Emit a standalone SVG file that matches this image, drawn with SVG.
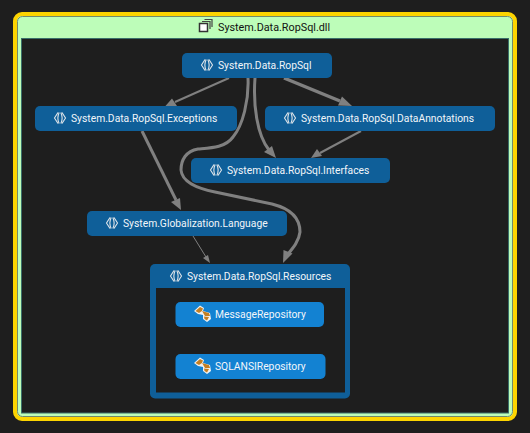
<svg xmlns="http://www.w3.org/2000/svg" width="530" height="433" viewBox="0 0 530 433">
<style>
text{font-family:"Roboto","Lato","Liberation Sans",sans-serif;font-size:10.3px;fill:#f2f6fa}
.ns{fill:#0f5f99}
.cl{fill:#1382d2}
.e{fill:none;stroke:#808080;stroke-linecap:butt}
.a{fill:#808080}
.br{fill:none;stroke:#dfe5ea;stroke-width:1.1}
</style>
<defs>
<g id="nsicon"><path class="br" d="M-2 -5.500 L-5.500 0 L-2 5.500 M-0.800 -5.500 Q-3.500 0 -0.800 5.500 M2 -5.500 L5.500 0 L2 5.500 M0.800 -5.500 Q3.500 0 0.800 5.500"/></g>
<g id="clicon"><path fill="#f2f2f2" d="M-2 -8.500 L2 -6 L1 -3 L8 -1 L9 5 L5 8 L1 5 L1 1 L-4 0 L-8 -3 Z"/><path fill="#c47f22" d="M-2 -7 L1 -5.500 L0 -3 L-3 -1 L-6.500 -3 Z"/><path fill="#c47f22" d="M0 -3 L7 -1 L8 2 L3 2 Z"/><path fill="#c47f22" d="M2 2.500 L7 3 L5 6.500 L2.500 5 Z"/></g>
</defs>
<rect width="530" height="433" fill="#1e1e1e"/>
<g id="assembly">
<rect x="15" y="14" width="500" height="405" rx="7" fill="#bdfdb9" stroke="#fdd400" stroke-width="4"/>
<rect x="17.500" y="16.500" width="495" height="400" rx="5" fill="none" stroke="#6f8a6c" stroke-width="1"/>
<rect x="21.500" y="38.500" width="487" height="374.500" fill="#1e1e1e" stroke="#3a6f6a" stroke-width="1"/>
<rect x="199.500" y="23.500" width="8" height="8" fill="#fff" stroke="#333" stroke-width="1.500"/>
<path d="M202 21.500 H210 V29 M204.500 19.500 H212 V27" fill="none" stroke="#444" stroke-width="1.200"/>
<text x="218" y="31" style="fill:#111;font-size:10.8px">System.Data.RopSql.dll</text>
</g>
<g id="connectors">
<path class="e" stroke-width="2" d="M229 78 L175 102"/><path class="a" d="M165 106.500 L172 98.500 L177 106 Z"/>
<path class="e" stroke-width="3.500" d="M284 78 L340 101"/><path class="a" d="M352 106 L338 105.500 L342 96.500 Z"/>
<path class="e" stroke-width="3" d="M255 78 C253 105 257 135 269 150"/><path class="a" d="M276 158 L264 152 L272 146 Z"/>
<path class="e" stroke-width="3" d="M248 78 C249 100 243 125 233 137 C225 148 210 148 198 149 C186 151 181 160 181 170 C182 182 196 188 215 192 L272 204 C292 209 300 219 300 232 C299 241 293 248 288 254"/><path class="a" d="M283 263 L283.500 250 L292.500 253.500 Z"/>
<path class="e" stroke-width="2" d="M361 131 L320 153"/><path class="a" d="M311 158 L317 149 L322 156 Z"/>
<path class="e" stroke-width="3" d="M142 131 L176 200"/><path class="a" d="M181 210 L171 202 L180 198 Z"/>
<path class="e" stroke-width="1" d="M193 236 L206 257"/><path class="a" d="M210 263 L203 258 L208 255 Z"/>
</g>
<g id="ns-root"><rect class="ns" x="182" y="53" width="150" height="25" rx="5"/><use href="#nsicon" x="207" y="65"/><text x="218" y="69">System.Data.RopSql</text></g>
<g id="ns-exceptions"><rect class="ns" x="35" y="106" width="202" height="25" rx="5"/><use href="#nsicon" x="60" y="118"/><text x="71" y="122">System.Data.RopSql.Exceptions</text></g>
<g id="ns-annotations"><rect class="ns" x="265" y="106" width="230" height="25" rx="5"/><use href="#nsicon" x="290" y="118"/><text x="301" y="122">System.Data.RopSql.DataAnnotations</text></g>
<g id="ns-interfaces"><rect class="ns" x="191" y="158" width="199" height="25" rx="5"/><use href="#nsicon" x="216" y="170"/><text x="227" y="174">System.Data.RopSql.Interfaces</text></g>
<g id="ns-language"><rect class="ns" x="87" y="211" width="200" height="25" rx="5"/><use href="#nsicon" x="112" y="223"/><text x="123" y="227">System.Globalization.Language</text></g>
<g id="ns-resources"><rect class="ns" x="150" y="264" width="200" height="134.500" rx="5"/><rect x="156" y="288" width="189" height="104.500" fill="#1e1e1e"/><use href="#nsicon" x="176" y="276"/><text x="187" y="280">System.Data.RopSql.Resources</text></g>
<g id="class-message"><rect class="cl" x="175.500" y="302" width="148.500" height="25" rx="5"/><use href="#clicon" x="202" y="314"/><text x="215" y="318">MessageRepository</text></g>
<g id="class-sqlansi"><rect class="cl" x="175.500" y="354" width="150" height="25" rx="5"/><use href="#clicon" x="202" y="366"/><text x="215" y="370">SQLANSIRepository</text></g>
</svg>
